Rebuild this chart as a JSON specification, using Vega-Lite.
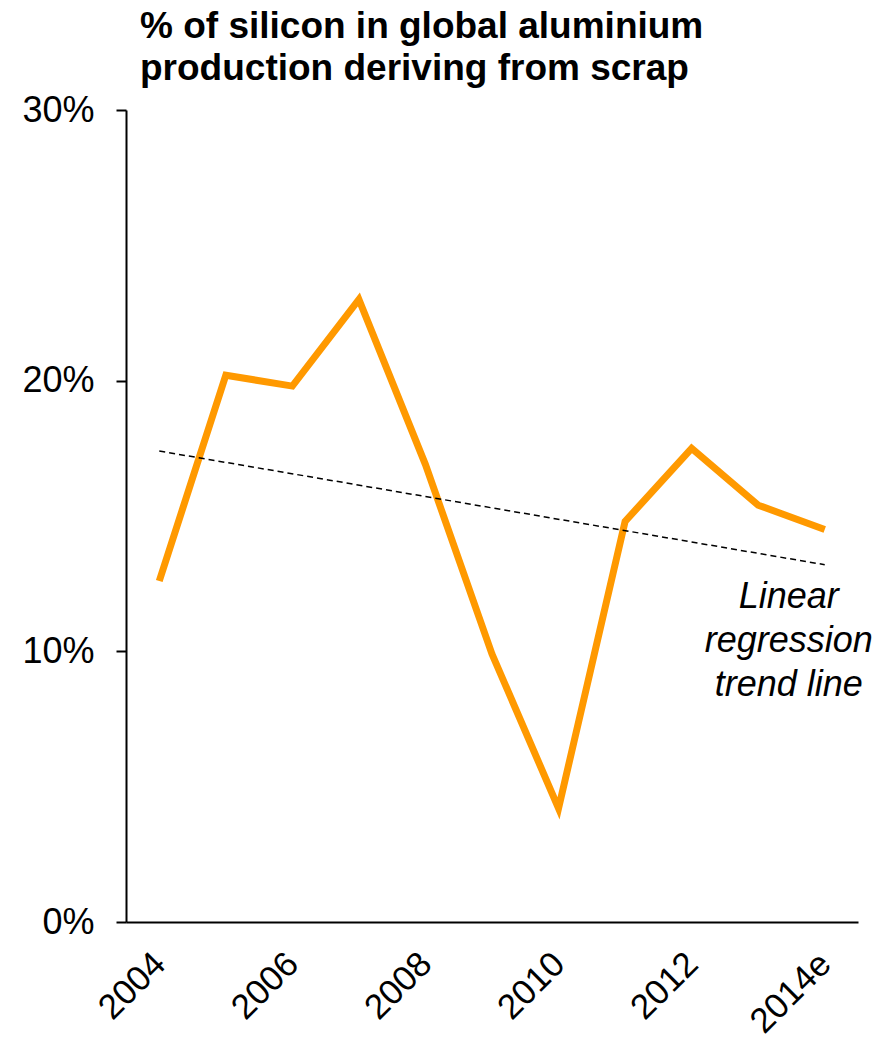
{
  "$schema": "https://vega.github.io/schema/vega-lite/v6.json",
  "width": 732,
  "height": 812,
  "autosize": "none",
  "padding": {"left": 126, "top": 110, "right": 28, "bottom": 122},
  "background": "white",
  "config": {
    "view": {"stroke": null},
    "font": "Liberation Sans"
  },
  "title": {
    "text": ["% of silicon in global aluminium", "production deriving from scrap"],
    "anchor": "start",
    "frame": "group",
    "dx": 14,
    "offset": 4,
    "font": "Liberation Sans",
    "fontSize": 37,
    "fontWeight": "bold",
    "lineHeight": 42,
    "color": "black"
  },
  "datasets": {
    "share": [
      {"year": "2004", "pct": 0.126},
      {"year": "2005", "pct": 0.202},
      {"year": "2006", "pct": 0.198},
      {"year": "2007", "pct": 0.230},
      {"year": "2008", "pct": 0.169},
      {"year": "2009", "pct": 0.099},
      {"year": "2010", "pct": 0.042},
      {"year": "2011", "pct": 0.148},
      {"year": "2012", "pct": 0.175},
      {"year": "2013", "pct": 0.154},
      {"year": "2014e", "pct": 0.145}
    ],
    "trend": [
      {"year": "2004", "pct": 0.174},
      {"year": "2014e", "pct": 0.132}
    ],
    "note": [
      {"year": "2014e", "pct": 0.12, "label": "Linear\nregression\ntrend line"}
    ]
  },
  "encoding": {
    "x": {
      "field": "year",
      "type": "ordinal",
      "sort": null,
      "scale": {
        "type": "point",
        "padding": 0.5,
        "domain": ["2004", "2005", "2006", "2007", "2008", "2009", "2010", "2011", "2012", "2013", "2014e"]
      },
      "axis": {
        "title": null,
        "values": ["2004", "2006", "2008", "2010", "2012", "2014e"],
        "ticks": false,
        "grid": false,
        "domainColor": "black",
        "domainWidth": 2,
        "labelAngle": -45,
        "labelAlign": "right",
        "labelBaseline": "middle",
        "labelFontSize": 35,
        "labelColor": "black",
        "labelPadding": 36
      }
    },
    "y": {
      "field": "pct",
      "type": "quantitative",
      "scale": {"domain": [0, 0.3]},
      "axis": {
        "title": null,
        "values": [0, 0.1, 0.2, 0.3],
        "format": ".0%",
        "grid": false,
        "domainColor": "black",
        "domainWidth": 2,
        "tickColor": "black",
        "tickWidth": 2,
        "tickSize": 10,
        "labelFontSize": 36,
        "labelColor": "black",
        "labelPadding": 22
      }
    }
  },
  "layer": [
    {
      "data": {"name": "share"},
      "mark": {"type": "line", "color": "#FF9900", "strokeWidth": 7}
    },
    {
      "data": {"name": "trend"},
      "mark": {"type": "line", "color": "black", "strokeWidth": 1.5, "strokeDash": [6, 4]}
    },
    {
      "data": {"name": "note"},
      "mark": {
        "type": "text",
        "font": "Liberation Sans",
        "fontSize": 36,
        "fontStyle": "italic",
        "lineBreak": "\n",
        "lineHeight": 44,
        "align": "center",
        "baseline": "middle",
        "dx": -36,
        "color": "black"
      },
      "encoding": {"text": {"field": "label"}}
    }
  ]
}
